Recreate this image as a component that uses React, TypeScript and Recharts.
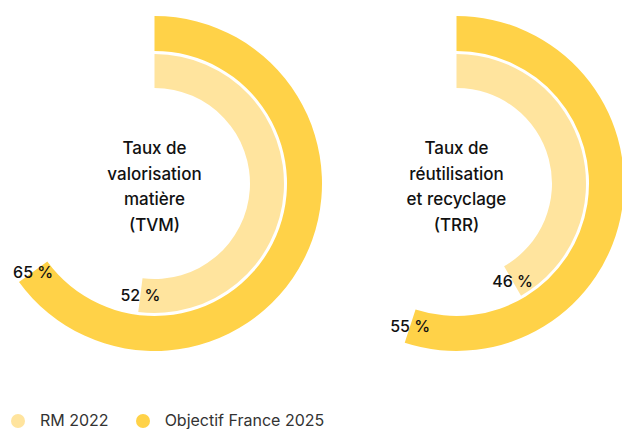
import React from 'react';
import { PieChart, Pie, Cell, Legend } from 'recharts';

// ---- data ----
const charts = ['TVM', 'TRR'];
const titles = [
  ['Taux de', 'valorisation', 'matière', '(TVM)'],
  ['Taux de', 'réutilisation', 'et recyclage', '(TRR)'],
];
// Objectif France 2025 (outer ring), in %
const objectifValues = [65, 55];
const objectifLabels = ['65 %', '55 %'];
// RM 2022 (inner ring): arc length as drawn in the reference, and its printed label
const rmValues = [52, 41.7];
const rmLabels = ['52 %', '46 %'];
const seriesNames = ['RM 2022', 'Objectif France 2025'];

// ---- styles ----
const LIGHT = '#FFE49E';
const DARK = '#FFD248';
const FONT = 'Inter, "Noto Sans", sans-serif';
const W = 622;
const H = 429;
const centersX = [154.5, 456.5];
const CY = 183.5;

const toPie = (v: number) => [
  { name: 'value', value: v },
  { name: 'rest', value: 100 - v },
];

const endLabel = (text: string) => (props: any) => {
  if (props.index !== 0) return null;
  const { cx, cy, innerRadius, outerRadius, endAngle } = props;
  const r = (innerRadius + outerRadius) / 2;
  const rad = (-endAngle * Math.PI) / 180;
  const x = cx + r * Math.cos(rad);
  const y = cy + r * Math.sin(rad);
  return (
    <text
      x={x}
      y={y}
      textAnchor="middle"
      dominantBaseline="central"
      fontFamily={FONT}
      fontSize={16}
      fontWeight={500}
      fill="#111"
    >
      {text}
    </text>
  );
};

const LegendContent = () => (
  <div style={{ display: 'flex', alignItems: 'center', fontFamily: FONT, fontSize: 16, color: '#333', lineHeight: '15px', height: 15 }}>
    {seriesNames.map((n, i) => (
      <div key={n} style={{ display: 'flex', alignItems: 'center', marginRight: 27 }}>
        <span
          style={{
            width: 14,
            height: 14,
            borderRadius: 7,
            background: i === 0 ? LIGHT : DARK,
            display: 'inline-block',
            marginLeft: i === 0 ? 11 : 0,
            marginRight: 15,
          }}
        />
        <span>{n}</span>
      </div>
    ))}
  </div>
);

export default function App() {
  return (
    <div style={{ position: 'absolute', left: 0, top: 0, width: W, height: H, background: '#fff', overflow: 'hidden' }}>
      <PieChart width={W} height={H} margin={{ top: 0, right: 0, bottom: 0, left: 0 }}>
        {charts.map((c, i) => (
          <Pie
            key={'o' + c}
            data={toPie(objectifValues[i])}
            dataKey="value"
            cx={centersX[i]}
            cy={CY}
            innerRadius={132.5}
            outerRadius={167.5}
            startAngle={90}
            endAngle={-270}
            stroke="none"
            isAnimationActive={false}
            labelLine={false}
            label={endLabel(objectifLabels[i])}
          >
            <Cell fill={DARK} />
            <Cell fill="transparent" />
          </Pie>
        ))}
        {charts.map((c, i) => (
          <Pie
            key={'i' + c}
            data={toPie(rmValues[i])}
            dataKey="value"
            cx={centersX[i]}
            cy={CY}
            innerRadius={95.5}
            outerRadius={129.5}
            startAngle={90}
            endAngle={-270}
            stroke="none"
            isAnimationActive={false}
            labelLine={false}
            label={endLabel(rmLabels[i])}
          >
            <Cell fill={LIGHT} />
            <Cell fill="transparent" />
          </Pie>
        ))}
        {charts.map((c, i) => (
          <text
            key={'t' + c}
            x={centersX[i]}
            textAnchor="middle"
            fontFamily={FONT}
            fontSize={17}
            fontWeight={500}
            fill="#111"
          >
            {titles[i].map((line, j) => (
              <tspan key={j} x={centersX[i]} y={154 + j * 25.5}>
                {line}
              </tspan>
            ))}
          </text>
        ))}
        <Legend
          verticalAlign="bottom"
          align="left"
          content={<LegendContent />}
          wrapperStyle={{ left: 0, top: 413, width: 420, height: 15 }}
        />
      </PieChart>
    </div>
  );
}
